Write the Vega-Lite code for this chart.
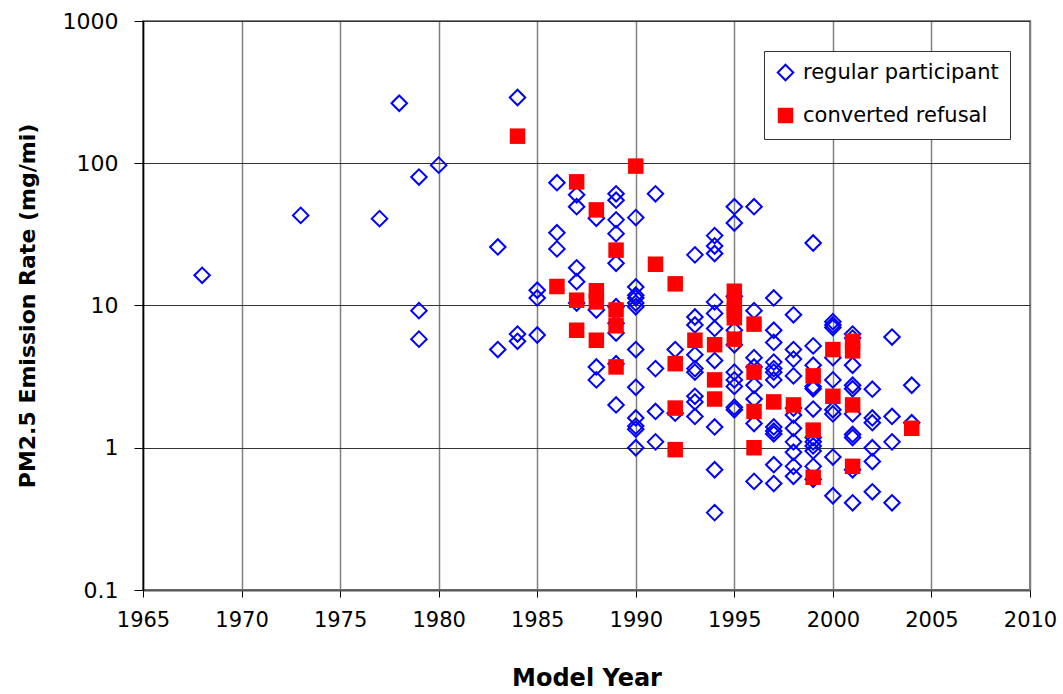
{
  "$schema": "https://vega.github.io/schema/vega-lite/v6.json",
  "autosize": "none",
  "padding": {"left": 143, "top": 21, "right": 33, "bottom": 104},
  "width": 887,
  "height": 569,
  "config": {
    "font": "DejaVu Sans",
    "view": {"stroke": "#808080", "strokeWidth": 2},
    "legend": {
      "orient": "none", "legendX": 621, "legendY": 30, "title": null,
      "strokeColor": "#333333", "fillColor": "#ffffff", "padding": 11,
      "labelFontSize": 21, "labelColor": "#000000", "labelLimit": 0, "symbolSize": 240,
      "symbolStrokeWidth": 2, "rowPadding": 18, "labelOffset": 7
    }
  },
  "data": {
    "values": [
      {"year": 1968, "pm": 16.3, "group": "regular participant"},
      {"year": 1973, "pm": 43, "group": "regular participant"},
      {"year": 1977, "pm": 40.8, "group": "regular participant"},
      {"year": 1978, "pm": 264, "group": "regular participant"},
      {"year": 1979, "pm": 80, "group": "regular participant"},
      {"year": 1979, "pm": 9.2, "group": "regular participant"},
      {"year": 1979, "pm": 5.8, "group": "regular participant"},
      {"year": 1980, "pm": 97, "group": "regular participant"},
      {"year": 1983, "pm": 25.8, "group": "regular participant"},
      {"year": 1983, "pm": 4.9, "group": "regular participant"},
      {"year": 1984, "pm": 290, "group": "regular participant"},
      {"year": 1984, "pm": 6.3, "group": "regular participant"},
      {"year": 1984, "pm": 5.6, "group": "regular participant"},
      {"year": 1985, "pm": 12.8, "group": "regular participant"},
      {"year": 1985, "pm": 11.3, "group": "regular participant"},
      {"year": 1985, "pm": 6.2, "group": "regular participant"},
      {"year": 1986, "pm": 73, "group": "regular participant"},
      {"year": 1986, "pm": 32.5, "group": "regular participant"},
      {"year": 1986, "pm": 25, "group": "regular participant"},
      {"year": 1987, "pm": 60, "group": "regular participant"},
      {"year": 1987, "pm": 49.5, "group": "regular participant"},
      {"year": 1987, "pm": 18.4, "group": "regular participant"},
      {"year": 1987, "pm": 14.7, "group": "regular participant"},
      {"year": 1987, "pm": 10.4, "group": "regular participant"},
      {"year": 1988, "pm": 41, "group": "regular participant"},
      {"year": 1988, "pm": 9.3, "group": "regular participant"},
      {"year": 1988, "pm": 3.7, "group": "regular participant"},
      {"year": 1988, "pm": 3.0, "group": "regular participant"},
      {"year": 1989, "pm": 61, "group": "regular participant"},
      {"year": 1989, "pm": 55, "group": "regular participant"},
      {"year": 1989, "pm": 40, "group": "regular participant"},
      {"year": 1989, "pm": 32, "group": "regular participant"},
      {"year": 1989, "pm": 19.8, "group": "regular participant"},
      {"year": 1989, "pm": 9.8, "group": "regular participant"},
      {"year": 1989, "pm": 7.5, "group": "regular participant"},
      {"year": 1989, "pm": 6.4, "group": "regular participant"},
      {"year": 1989, "pm": 3.9, "group": "regular participant"},
      {"year": 1989, "pm": 2.0, "group": "regular participant"},
      {"year": 1990, "pm": 41.5, "group": "regular participant"},
      {"year": 1990, "pm": 13.5, "group": "regular participant"},
      {"year": 1990, "pm": 11.8, "group": "regular participant"},
      {"year": 1990, "pm": 11.3, "group": "regular participant"},
      {"year": 1990, "pm": 10.4, "group": "regular participant"},
      {"year": 1990, "pm": 9.8, "group": "regular participant"},
      {"year": 1990, "pm": 4.9, "group": "regular participant"},
      {"year": 1990, "pm": 2.66, "group": "regular participant"},
      {"year": 1990, "pm": 1.62, "group": "regular participant"},
      {"year": 1990, "pm": 1.42, "group": "regular participant"},
      {"year": 1990, "pm": 1.35, "group": "regular participant"},
      {"year": 1990, "pm": 1.0, "group": "regular participant"},
      {"year": 1991, "pm": 61, "group": "regular participant"},
      {"year": 1991, "pm": 3.6, "group": "regular participant"},
      {"year": 1991, "pm": 1.8, "group": "regular participant"},
      {"year": 1991, "pm": 1.1, "group": "regular participant"},
      {"year": 1992, "pm": 4.9, "group": "regular participant"},
      {"year": 1992, "pm": 1.75, "group": "regular participant"},
      {"year": 1993, "pm": 22.7, "group": "regular participant"},
      {"year": 1993, "pm": 8.3, "group": "regular participant"},
      {"year": 1993, "pm": 7.3, "group": "regular participant"},
      {"year": 1993, "pm": 4.5, "group": "regular participant"},
      {"year": 1993, "pm": 3.6, "group": "regular participant"},
      {"year": 1993, "pm": 3.4, "group": "regular participant"},
      {"year": 1993, "pm": 2.3, "group": "regular participant"},
      {"year": 1993, "pm": 2.1, "group": "regular participant"},
      {"year": 1993, "pm": 1.66, "group": "regular participant"},
      {"year": 1994, "pm": 31, "group": "regular participant"},
      {"year": 1994, "pm": 26.2, "group": "regular participant"},
      {"year": 1994, "pm": 23.2, "group": "regular participant"},
      {"year": 1994, "pm": 10.6, "group": "regular participant"},
      {"year": 1994, "pm": 8.8, "group": "regular participant"},
      {"year": 1994, "pm": 6.9, "group": "regular participant"},
      {"year": 1994, "pm": 4.1, "group": "regular participant"},
      {"year": 1994, "pm": 1.4, "group": "regular participant"},
      {"year": 1994, "pm": 0.7, "group": "regular participant"},
      {"year": 1994, "pm": 0.35, "group": "regular participant"},
      {"year": 1995, "pm": 49.5, "group": "regular participant"},
      {"year": 1995, "pm": 38, "group": "regular participant"},
      {"year": 1995, "pm": 11.6, "group": "regular participant"},
      {"year": 1995, "pm": 6.7, "group": "regular participant"},
      {"year": 1995, "pm": 5.3, "group": "regular participant"},
      {"year": 1995, "pm": 3.4, "group": "regular participant"},
      {"year": 1995, "pm": 3.0, "group": "regular participant"},
      {"year": 1995, "pm": 2.7, "group": "regular participant"},
      {"year": 1995, "pm": 1.93, "group": "regular participant"},
      {"year": 1995, "pm": 1.85, "group": "regular participant"},
      {"year": 1996, "pm": 49.5, "group": "regular participant"},
      {"year": 1996, "pm": 9.2, "group": "regular participant"},
      {"year": 1996, "pm": 4.3, "group": "regular participant"},
      {"year": 1996, "pm": 3.7, "group": "regular participant"},
      {"year": 1996, "pm": 2.75, "group": "regular participant"},
      {"year": 1996, "pm": 2.2, "group": "regular participant"},
      {"year": 1996, "pm": 1.48, "group": "regular participant"},
      {"year": 1996, "pm": 0.58, "group": "regular participant"},
      {"year": 1997, "pm": 11.3, "group": "regular participant"},
      {"year": 1997, "pm": 6.7, "group": "regular participant"},
      {"year": 1997, "pm": 5.5, "group": "regular participant"},
      {"year": 1997, "pm": 4.0, "group": "regular participant"},
      {"year": 1997, "pm": 3.6, "group": "regular participant"},
      {"year": 1997, "pm": 3.4, "group": "regular participant"},
      {"year": 1997, "pm": 3.0, "group": "regular participant"},
      {"year": 1997, "pm": 1.4, "group": "regular participant"},
      {"year": 1997, "pm": 1.31, "group": "regular participant"},
      {"year": 1997, "pm": 1.25, "group": "regular participant"},
      {"year": 1997, "pm": 0.76, "group": "regular participant"},
      {"year": 1997, "pm": 0.56, "group": "regular participant"},
      {"year": 1998, "pm": 8.6, "group": "regular participant"},
      {"year": 1998, "pm": 4.9, "group": "regular participant"},
      {"year": 1998, "pm": 4.2, "group": "regular participant"},
      {"year": 1998, "pm": 3.2, "group": "regular participant"},
      {"year": 1998, "pm": 1.9, "group": "regular participant"},
      {"year": 1998, "pm": 1.7, "group": "regular participant"},
      {"year": 1998, "pm": 1.37, "group": "regular participant"},
      {"year": 1998, "pm": 1.1, "group": "regular participant"},
      {"year": 1998, "pm": 0.93, "group": "regular participant"},
      {"year": 1998, "pm": 0.74, "group": "regular participant"},
      {"year": 1998, "pm": 0.63, "group": "regular participant"},
      {"year": 1999, "pm": 27.5, "group": "regular participant"},
      {"year": 1999, "pm": 5.2, "group": "regular participant"},
      {"year": 1999, "pm": 3.8, "group": "regular participant"},
      {"year": 1999, "pm": 2.7, "group": "regular participant"},
      {"year": 1999, "pm": 2.6, "group": "regular participant"},
      {"year": 1999, "pm": 1.87, "group": "regular participant"},
      {"year": 1999, "pm": 1.18, "group": "regular participant"},
      {"year": 1999, "pm": 1.1, "group": "regular participant"},
      {"year": 1999, "pm": 1.03, "group": "regular participant"},
      {"year": 1999, "pm": 0.95, "group": "regular participant"},
      {"year": 1999, "pm": 0.74, "group": "regular participant"},
      {"year": 1999, "pm": 0.6, "group": "regular participant"},
      {"year": 2000, "pm": 7.7, "group": "regular participant"},
      {"year": 2000, "pm": 7.3, "group": "regular participant"},
      {"year": 2000, "pm": 7.0, "group": "regular participant"},
      {"year": 2000, "pm": 4.3, "group": "regular participant"},
      {"year": 2000, "pm": 3.0, "group": "regular participant"},
      {"year": 2000, "pm": 1.85, "group": "regular participant"},
      {"year": 2000, "pm": 1.73, "group": "regular participant"},
      {"year": 2000, "pm": 0.86, "group": "regular participant"},
      {"year": 2000, "pm": 0.46, "group": "regular participant"},
      {"year": 2001, "pm": 6.3, "group": "regular participant"},
      {"year": 2001, "pm": 5.9, "group": "regular participant"},
      {"year": 2001, "pm": 3.8, "group": "regular participant"},
      {"year": 2001, "pm": 2.75, "group": "regular participant"},
      {"year": 2001, "pm": 2.6, "group": "regular participant"},
      {"year": 2001, "pm": 1.73, "group": "regular participant"},
      {"year": 2001, "pm": 1.24, "group": "regular participant"},
      {"year": 2001, "pm": 1.18, "group": "regular participant"},
      {"year": 2001, "pm": 0.7, "group": "regular participant"},
      {"year": 2001, "pm": 0.41, "group": "regular participant"},
      {"year": 2002, "pm": 2.58, "group": "regular participant"},
      {"year": 2002, "pm": 1.62, "group": "regular participant"},
      {"year": 2002, "pm": 1.5, "group": "regular participant"},
      {"year": 2002, "pm": 1.0, "group": "regular participant"},
      {"year": 2002, "pm": 0.8, "group": "regular participant"},
      {"year": 2002, "pm": 0.49, "group": "regular participant"},
      {"year": 2003, "pm": 6.0, "group": "regular participant"},
      {"year": 2003, "pm": 1.66, "group": "regular participant"},
      {"year": 2003, "pm": 1.1, "group": "regular participant"},
      {"year": 2003, "pm": 0.41, "group": "regular participant"},
      {"year": 2004, "pm": 2.75, "group": "regular participant"},
      {"year": 2004, "pm": 1.5, "group": "regular participant"},
      {"year": 1984, "pm": 155, "group": "converted refusal"},
      {"year": 1986, "pm": 13.6, "group": "converted refusal"},
      {"year": 1987, "pm": 74, "group": "converted refusal"},
      {"year": 1987, "pm": 10.9, "group": "converted refusal"},
      {"year": 1987, "pm": 6.7, "group": "converted refusal"},
      {"year": 1988, "pm": 47, "group": "converted refusal"},
      {"year": 1988, "pm": 12.7, "group": "converted refusal"},
      {"year": 1988, "pm": 10.6, "group": "converted refusal"},
      {"year": 1988, "pm": 5.7, "group": "converted refusal"},
      {"year": 1989, "pm": 24.5, "group": "converted refusal"},
      {"year": 1989, "pm": 9.3, "group": "converted refusal"},
      {"year": 1989, "pm": 7.2, "group": "converted refusal"},
      {"year": 1989, "pm": 3.7, "group": "converted refusal"},
      {"year": 1990, "pm": 95.5, "group": "converted refusal"},
      {"year": 1991, "pm": 19.5, "group": "converted refusal"},
      {"year": 1992, "pm": 14.2, "group": "converted refusal"},
      {"year": 1992, "pm": 3.9, "group": "converted refusal"},
      {"year": 1992, "pm": 1.9, "group": "converted refusal"},
      {"year": 1992, "pm": 0.97, "group": "converted refusal"},
      {"year": 1993, "pm": 5.7, "group": "converted refusal"},
      {"year": 1994, "pm": 5.3, "group": "converted refusal"},
      {"year": 1994, "pm": 3.0, "group": "converted refusal"},
      {"year": 1994, "pm": 2.2, "group": "converted refusal"},
      {"year": 1995, "pm": 12.6, "group": "converted refusal"},
      {"year": 1995, "pm": 10.5, "group": "converted refusal"},
      {"year": 1995, "pm": 9.2, "group": "converted refusal"},
      {"year": 1995, "pm": 8.2, "group": "converted refusal"},
      {"year": 1995, "pm": 5.8, "group": "converted refusal"},
      {"year": 1996, "pm": 7.4, "group": "converted refusal"},
      {"year": 1996, "pm": 3.4, "group": "converted refusal"},
      {"year": 1996, "pm": 1.8, "group": "converted refusal"},
      {"year": 1996, "pm": 1.0, "group": "converted refusal"},
      {"year": 1997, "pm": 2.1, "group": "converted refusal"},
      {"year": 1998, "pm": 2.0, "group": "converted refusal"},
      {"year": 1999, "pm": 3.2, "group": "converted refusal"},
      {"year": 1999, "pm": 1.33, "group": "converted refusal"},
      {"year": 1999, "pm": 0.62, "group": "converted refusal"},
      {"year": 2000, "pm": 4.9, "group": "converted refusal"},
      {"year": 2000, "pm": 2.3, "group": "converted refusal"},
      {"year": 2001, "pm": 5.6, "group": "converted refusal"},
      {"year": 2001, "pm": 4.8, "group": "converted refusal"},
      {"year": 2001, "pm": 2.0, "group": "converted refusal"},
      {"year": 2001, "pm": 0.74, "group": "converted refusal"},
      {"year": 2004, "pm": 1.37, "group": "converted refusal"}
    ]
  },
  "mark": {"type": "point", "size": 240, "strokeWidth": 2, "opacity": 1},
  "encoding": {
    "x": {
      "field": "year", "type": "quantitative",
      "scale": {"domain": [1965, 2010], "nice": false, "zero": false},
      "axis": {
        "values": [1965, 1970, 1975, 1980, 1985, 1990, 1995, 2000, 2005, 2010],
        "format": "d", "grid": true, "gridColor": "#808080", "gridWidth": 1.5,
        "labelFlush": false, "labelOverlap": false,
        "tickSize": 7, "tickColor": "#000000", "domainColor": "#555555", "domainWidth": 2,
        "labelFontSize": 21, "labelColor": "#000000", "labelPadding": 12,
        "title": "Model Year", "titleFontSize": 24, "titleFontWeight": "bold",
        "titleColor": "#000000", "titlePadding": 36
      }
    },
    "y": {
      "field": "pm", "type": "quantitative",
      "scale": {"type": "log", "domain": [0.1, 1000], "nice": false},
      "axis": {
        "values": [0.1, 1, 10, 100, 1000], "format": "~g",
        "grid": true, "gridColor": "#333333", "gridWidth": 1,
        "labelFlush": false, "labelOverlap": false,
        "tickSize": 9, "tickColor": "#000000", "domainColor": "#000000", "domainWidth": 1.5,
        "labelFontSize": 22, "labelColor": "#000000", "labelPadding": 16,
        "title": "PM2.5 Emission Rate (mg/mi)", "titleFontSize": 22, "titleFontWeight": "bold",
        "titleColor": "#000000", "titlePadding": 23
      }
    },
    "shape": {
      "field": "group", "type": "nominal",
      "scale": {"domain": ["regular participant", "converted refusal"], "range": ["diamond", "square"]}
    },
    "fill": {
      "field": "group", "type": "nominal",
      "scale": {"domain": ["regular participant", "converted refusal"], "range": ["transparent", "#FF0000"]}
    },
    "stroke": {
      "field": "group", "type": "nominal",
      "scale": {"domain": ["regular participant", "converted refusal"], "range": ["#0000FF", "transparent"]}
    }
  }
}
